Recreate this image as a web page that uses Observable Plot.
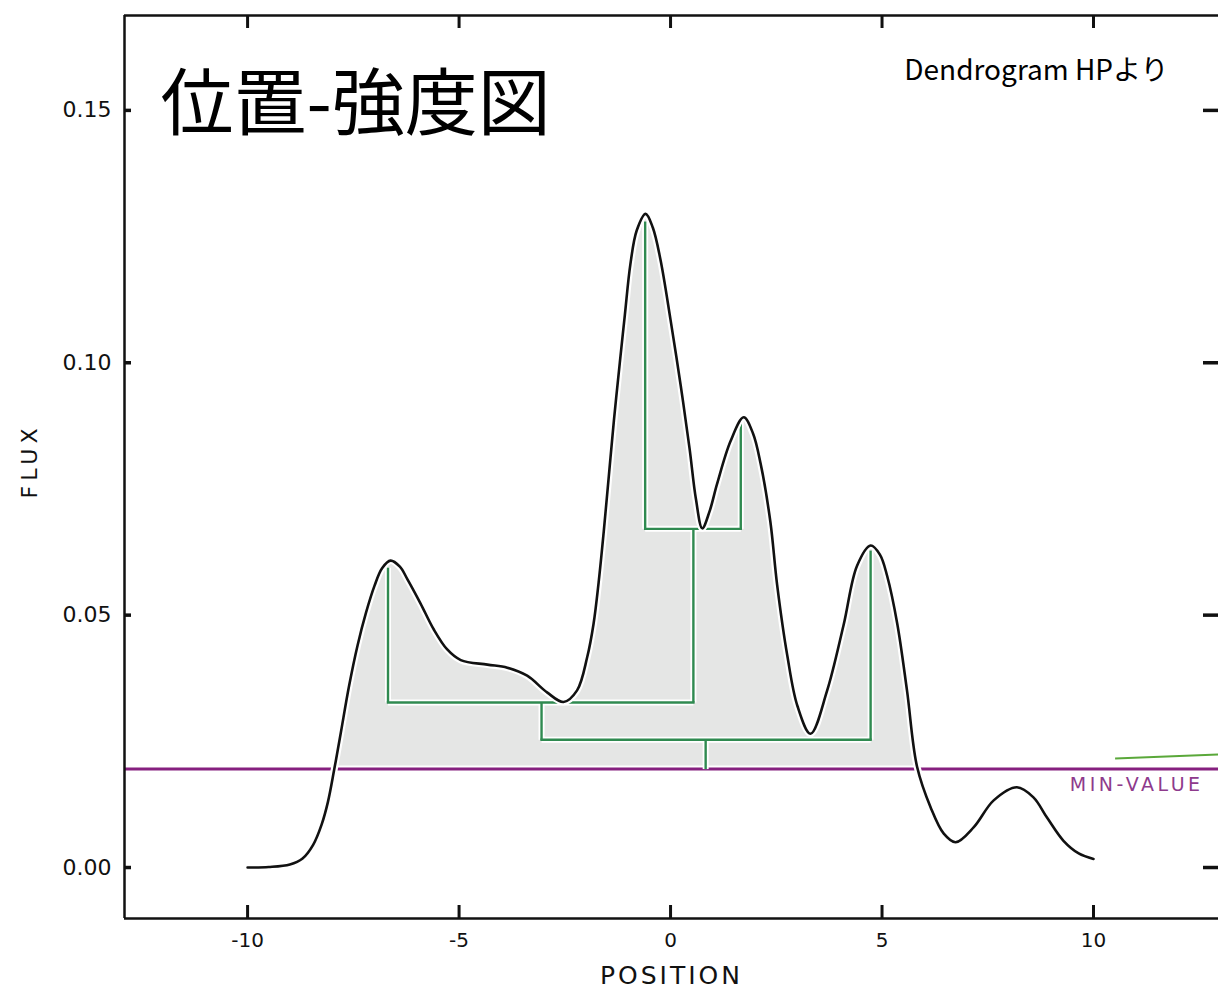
<!DOCTYPE html>
<html>
<head>
<meta charset="utf-8">
<script src="https://cdn.jsdelivr.net/npm/d3@7"></script>
<script src="https://cdn.jsdelivr.net/npm/@observablehq/plot@0.6"></script>
<style>
  html, body { margin: 0; padding: 0; background: #fff; }
  #chart svg { display: block; }
</style>
</head>
<body>
<div id="chart"></div>
<script>
// ---- data ----
const position = [-10, -9.5, -9.0, -8.7, -8.45, -8.25, -8.10, -7.95, -7.80, -7.60, -7.40, -7.20, -7.00, -6.82, -6.62,
  -6.40, -6.22, -5.91, -5.60, -5.28, -4.96, -4.33, -3.86, -3.39, -2.92, -2.53, -2.21, -1.97, -1.82,
  -1.70, -1.58, -1.46, -1.34, -1.20, -1.08, -0.95, -0.80, -0.59, -0.42, -0.24, 0.0, 0.24, 0.45, 0.60, 0.75,
  0.92, 1.10, 1.42, 1.73, 1.95, 2.13, 2.36, 2.52, 2.76, 3.0, 3.31, 3.70, 4.09, 4.41, 4.73, 4.95, 5.12, 5.36,
  5.59, 5.83, 6.15, 6.46, 6.74, 7.17, 7.64, 8.19, 8.58, 8.90, 9.29, 9.65, 10.0];
const flux = [0.0, 0.0001, 0.0006, 0.0018, 0.0045, 0.0085, 0.0130, 0.0195, 0.0265, 0.0360, 0.0440, 0.0505, 0.0558, 0.0593, 0.0608,
  0.0596, 0.0571, 0.0523, 0.0472, 0.0432, 0.0411, 0.0402, 0.0396, 0.0380, 0.0347, 0.0328, 0.0351, 0.0417, 0.0483,
  0.0565, 0.0665, 0.0775, 0.0885, 0.1000, 0.1095, 0.1195, 0.1262, 0.1295, 0.1268, 0.1205, 0.1085, 0.0955, 0.0830, 0.0730, 0.0672,
  0.0705, 0.0760, 0.0845, 0.0892, 0.0860, 0.0800, 0.0685, 0.0560, 0.0420, 0.0320, 0.0265, 0.0350, 0.0480, 0.0598, 0.0638, 0.0620, 0.0578, 0.0483,
  0.0351, 0.0199, 0.0119, 0.0067, 0.0050, 0.0080, 0.0133, 0.0159, 0.0139, 0.0099, 0.0053, 0.0028, 0.0017];

const minValue = 0.0195;

// dendrogram: vertical stems (leaves and branches)
const stemX    = [-6.68, -0.60, 1.66, 0.54, -3.05, 4.73, 0.83];
const stemTop  = [0.0594, 0.1280, 0.0886, 0.0671, 0.0327, 0.0628, 0.0253];
const stemBase = [0.0327, 0.0671, 0.0671, 0.0327, 0.0253, 0.0253, minValue];
// dendrogram: horizontal merges
const mergeLeft  = [-0.60, -6.68, -3.05];
const mergeRight = [1.66, 0.54, 4.73];
const mergeLevel = [0.0671, 0.0327, 0.0253];

// annotation near the min-value line
const minLabel = ["MIN-VALUE"];
const minLabelX = [11.02];
const pointerX1 = [10.51], pointerY1 = [0.0216], pointerX2 = [12.95], pointerY2 = [0.0224];

const xTicks = [-10, -5, 0, 5, 10];
const xTickLabels = ["-10", "-5", "0", "5", "10"];
const yTicks = [0.00, 0.05, 0.10, 0.15];
const yTickLabels = ["0.00", "0.05", "0.10", "0.15"];

const title = "位置-強度図";
const source = "Dendrogram HPより";
const xLabel = "POSITION";
const yLabel = "FLUX";

// ---- layout ----
const W = 1218, H = 992;
const mTop = 15, mBottom = 74, mLeft = 124, mRight = 0;
const frameW = W - mLeft - mRight, frameH = H - mTop - mBottom;
const xDomain = [-12.91, 12.955];
const yDomain = [-0.0101, 0.1688];

const tickFont = "DejaVu Sans, sans-serif";
const jpFont = "'Noto Sans CJK JP', 'Noto Sans', sans-serif";

const chart = Plot.plot({
  width: W,
  height: H,
  marginTop: mTop, marginBottom: mBottom, marginLeft: mLeft, marginRight: mRight,
  x: {domain: xDomain, axis: null},
  y: {domain: yDomain, axis: null},
  style: {background: "#fff", fontFamily: tickFont},
  marks: [
    // shaded region above the min value
    Plot.areaY(flux, {x: position, y1: minValue, y2: flux.map(v => Math.max(v, minValue)),
      fill: "#e5e6e5", curve: "catmull-rom"}),
    // min value line
    Plot.ruleY([minValue], {stroke: "#ffffff", strokeWidth: 7}),
    Plot.ruleY([minValue], {stroke: "#86207f", strokeWidth: 3}),
    // dendrogram
    Plot.link(stemX, {x1: stemX, x2: stemX, y1: stemBase, y2: stemTop, stroke: "#ffffff", strokeWidth: 6}),
    Plot.link(mergeLevel, {x1: mergeLeft, x2: mergeRight, y1: mergeLevel, y2: mergeLevel, stroke: "#ffffff", strokeWidth: 6}),
    Plot.link(stemX, {x1: stemX, x2: stemX, y1: stemBase, y2: stemTop, stroke: "#2f8a50", strokeWidth: 2.4}),
    Plot.link(mergeLevel, {x1: mergeLeft, x2: mergeRight, y1: mergeLevel, y2: mergeLevel, stroke: "#2f8a50", strokeWidth: 2.4, strokeLinecap: "square"}),
    // flux curve
    Plot.line(flux, {x: position, y: flux, stroke: "#ffffff", strokeWidth: 7, curve: "catmull-rom"}),
    Plot.line(flux, {x: position, y: flux, stroke: "#111", strokeWidth: 2.6, curve: "catmull-rom"}),
    // annotation
    Plot.link(pointerX1, {x1: pointerX1, y1: pointerY1, x2: pointerX2, y2: pointerY2, stroke: "#5aa83a", strokeWidth: 2}),
    Plot.text(minLabel, {x: minLabelX, y: minValue, dy: 16, fill: "#8e3a8c", fontSize: 19, fontFamily: tickFont,
      lineAnchor: "middle", textAnchor: "middle"}),
    // spines
    Plot.ruleX([xDomain[0]], {stroke: "#111", strokeWidth: 2.5}),
    Plot.ruleY([yDomain[0]], {stroke: "#111", strokeWidth: 2.5}),
    Plot.ruleY([yDomain[1]], {stroke: "#111", strokeWidth: 2.5}),
    // tick marks (inward)
    Plot.ruleX(xTicks, {x: d => d, insetTop: frameH - 13, stroke: "#111", strokeWidth: 3}),
    Plot.ruleX(xTicks, {x: d => d, insetBottom: frameH - 13, stroke: "#111", strokeWidth: 3}),
    Plot.ruleY(yTicks, {y: d => d, insetRight: frameW - 7, stroke: "#111", strokeWidth: 3.5}),
    Plot.ruleY(yTicks, {y: d => d, insetLeft: frameW - 15, stroke: "#111", strokeWidth: 3.5}),
    // tick labels
    Plot.text(xTicks, {x: d => d, text: (d, i) => xTickLabels[i], frameAnchor: "bottom", dy: 22,
      fontSize: 20, fill: "#111", lineAnchor: "middle", textAnchor: "middle"}),
    Plot.text(yTicks, {y: d => d, text: (d, i) => yTickLabels[i], frameAnchor: "left", dx: -13,
      textAnchor: "end", fontSize: 22, fill: "#111", lineAnchor: "middle"}),
    // axis labels
    Plot.text([xLabel], {frameAnchor: "bottom", dy: 57, fontSize: 25, fill: "#111", lineAnchor: "middle",
      textAnchor: "middle"}),
    Plot.text([yLabel], {frameAnchor: "left", dx: -95, dy: -6, rotate: -90, fontSize: 22, fill: "#111",
      lineAnchor: "middle", textAnchor: "middle"}),
    // title and source
    Plot.text([title], {frameAnchor: "top-left", dx: 36, dy: 113, textAnchor: "start", lineAnchor: "bottom",
      fontSize: 73, fontFamily: jpFont, fill: "#000"}),
    Plot.text([source], {frameAnchor: "top-right", dx: -50, dy: 64, textAnchor: "end", lineAnchor: "bottom",
      fontSize: 28, fontFamily: jpFont, fill: "#000"})
  ]
});

// hand-lettered labels are widely spaced
const spacing = {"POSITION": "3px", "FLUX": "5px", "MIN-VALUE": "3.5px"};
d3.select(chart).selectAll("text").each(function () {
  const s = spacing[this.textContent];
  if (s) this.setAttribute("letter-spacing", s);
});

document.getElementById("chart").appendChild(chart);
</script>
</body>
</html>
